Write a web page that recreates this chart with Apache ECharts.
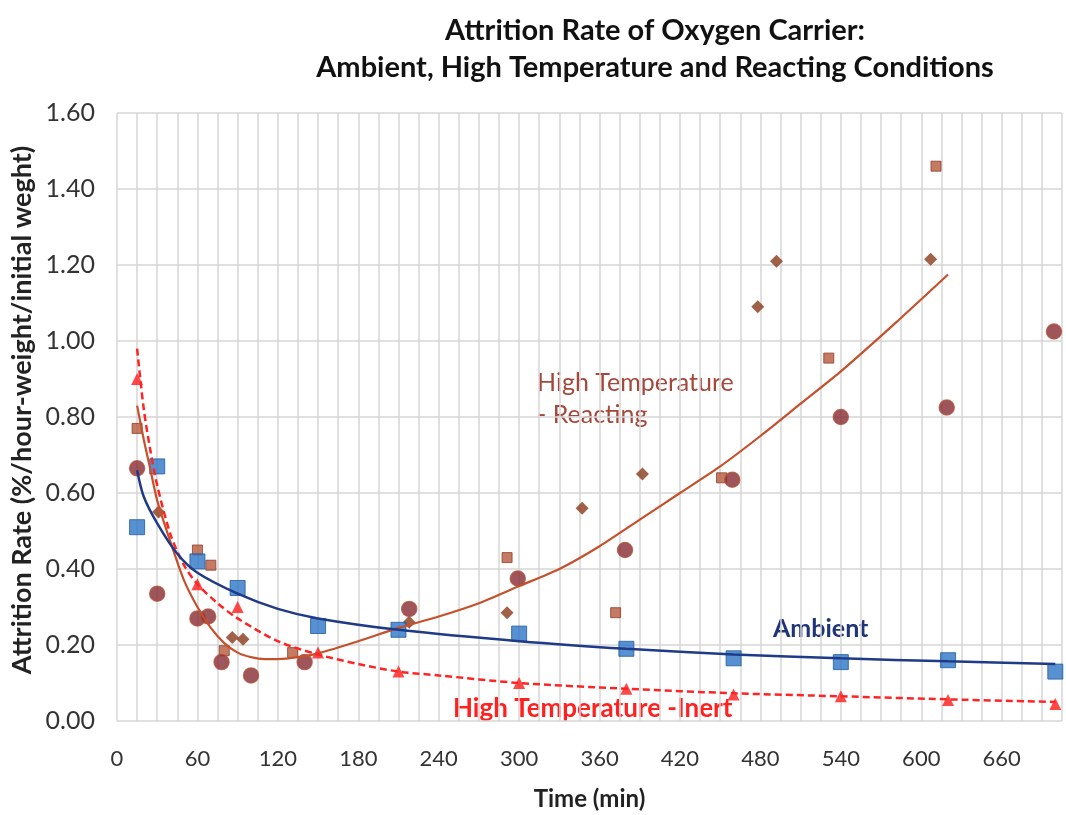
<!DOCTYPE html>
<html>
<head>
<meta charset="utf-8">
<script src="https://cdn.jsdelivr.net/npm/echarts@6/dist/echarts.min.js"></script>
<style>
    html, body { margin: 0; padding: 0; background: #fff; }
    #chart { width: 1066px; height: 815px; }
</style>
</head>
<body>
<div id="chart"></div>
<script>
    // Ambient (blue squares)
    var ambientT = [15, 30, 60, 90, 150, 210, 300, 380, 460, 540, 620, 700];
    var ambientV = [0.51, 0.67, 0.42, 0.35, 0.25, 0.24, 0.23, 0.19, 0.165, 0.155, 0.16, 0.13];
    // High temperature - inert (red triangles)
    var inertT = [15, 60, 90, 150, 210, 300, 380, 460, 540, 620, 700];
    var inertV = [0.90, 0.36, 0.30, 0.18, 0.13, 0.10, 0.085, 0.07, 0.065, 0.055, 0.045];
    // High temperature - reacting, three runs
    var circT = [15, 30, 60, 68, 78, 100, 140, 218, 299, 379, 459, 540, 619, 699];
    var circV = [0.665, 0.335, 0.27, 0.275, 0.155, 0.12, 0.155, 0.295, 0.375, 0.45, 0.635, 0.80, 0.825, 1.025];
    var diaT = [31, 86, 94, 218, 291, 347, 392, 478, 492, 607];
    var diaV = [0.55, 0.22, 0.215, 0.26, 0.285, 0.56, 0.65, 1.09, 1.21, 1.215];
    var sqT = [15, 60, 70, 80, 131, 291, 372, 451, 531, 611];
    var sqV = [0.77, 0.45, 0.41, 0.185, 0.18, 0.43, 0.285, 0.64, 0.955, 1.46];

    // trend lines
    var ambFitT = [15, 20, 30, 45, 60, 90, 120, 150, 210, 300, 380, 460, 540, 620, 700];
    var ambFitV = [0.66, 0.59, 0.52, 0.44, 0.39, 0.335, 0.295, 0.27, 0.24, 0.21, 0.19, 0.175, 0.165, 0.157, 0.15];
    var inertFitT = [15, 20, 25, 30, 40, 50, 60, 75, 90, 120, 150, 180, 210, 240, 300, 380, 460, 540, 620, 700];
    var inertFitV = [0.98, 0.82, 0.71, 0.62, 0.49, 0.41, 0.36, 0.31, 0.27, 0.21, 0.175, 0.15, 0.13, 0.12, 0.10, 0.085, 0.073, 0.065, 0.057, 0.05];
    var reactFitT = [15, 20, 25, 30, 40, 50, 60, 70, 80, 90, 100, 110, 120, 135, 150, 180, 210, 240, 270, 300, 330, 360, 390, 420, 450, 480, 510, 540, 580, 620];
    var reactFitV = [0.83, 0.74, 0.66, 0.58, 0.47, 0.37, 0.30, 0.245, 0.205, 0.18, 0.168, 0.163, 0.163, 0.168, 0.178, 0.21, 0.245, 0.275, 0.31, 0.355, 0.40, 0.46, 0.53, 0.60, 0.67, 0.75, 0.835, 0.92, 1.045, 1.175];

    var titleLines = ['Attrition Rate of Oxygen Carrier:', 'Ambient, High Temperature and Reacting Conditions'];

    function pairs(t, v) {
        var out = [];
        for (var i = 0; i < t.length; i++) out.push([t[i], v[i]]);
        return out;
    }

    var font = 'Lato, "Open Sans", sans-serif';
    var myChart = echarts.init(document.getElementById('chart'));
    var option = {
        backgroundColor: '#fff',
        animation: false,
        textStyle: { fontFamily: font },
        grid: { left: 117, right: 4, top: 113, bottom: 94, outerBoundsMode: 'none' },
        xAxis: {
            type: 'value',
            min: 0,
            max: 705,
            interval: 15,
            name: 'Time (min)',
            nameLocation: 'middle',
            nameGap: 66,
            nameTextStyle: { fontSize: 24, fontWeight: 'bold', color: '#222', fontFamily: font },
            axisLine: { show: false },
            axisTick: { show: false },
            axisLabel: {
                margin: 27,
                fontSize: 22,
                color: '#333',
                formatter: function (v) { return v % 60 === 0 && v < 700 ? String(v) : ''; }
            },
            splitLine: { show: true, lineStyle: { color: '#d6d6d6', width: 1.5 } }
        },
        yAxis: {
            type: 'value',
            min: 0,
            max: 1.6,
            interval: 0.2,
            axisLine: { show: false },
            axisTick: { show: false },
            axisLabel: {
                margin: 22,
                fontSize: 25,
                color: '#333',
                formatter: function (v) { return v.toFixed(2); }
            },
            splitLine: { show: true, lineStyle: { color: '#d6d6d6', width: 1.5 } }
        },
        series: [
            {
                name: 'Reacting squares', type: 'scatter', data: pairs(sqT, sqV),
                symbol: 'rect', symbolSize: 10,
                itemStyle: { color: '#b65a3c', borderColor: '#8f3f28', borderWidth: 1 }
            },
            {
                name: 'Reacting diamonds', type: 'scatter', data: pairs(diaT, diaV),
                symbol: 'diamond', symbolSize: 13,
                itemStyle: { color: '#8a3a1c' }
            },
            {
                name: 'Reacting circles', type: 'scatter', data: pairs(circT, circV),
                symbol: 'circle', symbolSize: 15,
                itemStyle: { color: '#862b33', borderColor: '#ad503c', borderWidth: 1.5 }
            },
            {
                name: 'Ambient', type: 'scatter', data: pairs(ambientT, ambientV),
                symbol: 'rect', symbolSize: 15,
                itemStyle: { color: '#2e75c6', borderColor: '#1f5c9f', borderWidth: 1 }
            },
            {
                name: 'Inert', type: 'scatter', data: pairs(inertT, inertV),
                symbol: 'triangle', symbolSize: 12,
                itemStyle: { color: '#ff1a1a' }
            },
            {
                name: 'Reacting fit', type: 'line', data: pairs(reactFitT, reactFitV),
                smooth: 0.25, showSymbol: false,
                lineStyle: { color: '#c4512b', width: 2.2 }
            },
            {
                name: 'Inert fit', type: 'line', data: pairs(inertFitT, inertFitV),
                smooth: 0.3, showSymbol: false,
                lineStyle: { color: '#ff2424', width: 2.5, type: [7, 4] }
            },
            {
                name: 'Ambient fit', type: 'line', data: pairs(ambFitT, ambFitV),
                smooth: 0.3, showSymbol: false,
                lineStyle: { color: '#1f3a87', width: 2.5 }
            }
        ],
        graphic: [
            { type: 'text', x: 655, y: 31, style: { text: titleLines[0], fill: '#111', font: 'bold 29px ' + font, align: 'center', verticalAlign: 'middle' } },
            { type: 'text', x: 655, y: 68, style: { text: titleLines[1], fill: '#111', font: 'bold 29px ' + font, align: 'center', verticalAlign: 'middle' } },
            {
                type: 'text', x: 22, y: 410, rotation: Math.PI / 2,
                style: { text: 'Attrition Rate (%/hour-weight/initial weght)', fill: '#222', font: 'bold 27px ' + font, align: 'center', verticalAlign: 'middle' }
            },
            { type: 'text', x: 537, y: 383, style: { text: 'High Temperature', fill: '#a4483c', font: '25px ' + font, verticalAlign: 'middle' } },
            { type: 'text', x: 537, y: 415, style: { text: '- Reacting', fill: '#a4483c', font: '25px ' + font, verticalAlign: 'middle' } },
            { type: 'text', x: 773, y: 629, style: { text: 'Ambient', fill: '#1f3578', font: 'bold 25px ' + font, verticalAlign: 'middle' } },
            { type: 'text', x: 453, y: 709, style: { text: 'High Temperature -Inert', fill: '#ff2020', font: 'bold 26px ' + font, verticalAlign: 'middle' } }
        ]
    };
    myChart.setOption(option);
</script>
</body>
</html>
